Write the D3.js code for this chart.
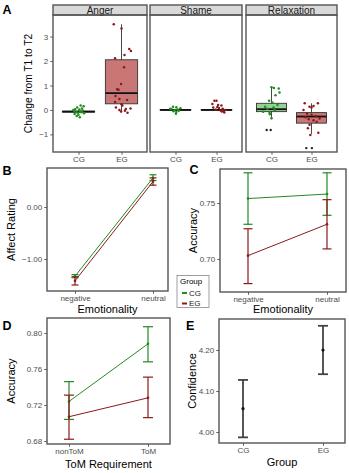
<!DOCTYPE html>
<html>
<head>
<meta charset="utf-8">
<script src="https://cdn.jsdelivr.net/npm/d3@7"></script>
<style>
    body { margin: 0; background: #fff; }
    text { font-family: "Liberation Sans", Arial, sans-serif; }
</style>
</head>
<body>
<svg id="fig" width="349" height="473"></svg>
<script>
var svg = d3.select("#fig");

var facets = ["Anger", "Shame", "Relaxation"];
var groups = ["CG", "EG"];
var colors = { CG: "#228B22", EG: "#8B1A1A" };
var boxFill = { CG: "#93d393", EG: "#c97676" };

// boxplot summaries: facet, group, lower whisker, q1, median, q3, upper whisker
var boxStats = [
    ["Anger", "CG", -0.12, -0.09, -0.07, -0.05, -0.02],
    ["Anger", "EG", -0.10, 0.25, 0.69, 2.05, 3.50],
    ["Shame", "CG", -0.02, -0.01, 0.00, 0.01, 0.02],
    ["Shame", "EG", -0.02, -0.01, 0.00, 0.01, 0.02],
    ["Relaxation", "CG", -0.38, -0.07, 0.03, 0.27, 0.95],
    ["Relaxation", "EG", -0.98, -0.54, -0.27, -0.11, 0.27]
];

// raw change scores: [change, jitter in group units]
var angerCG = [[0.18, 0.05], [0.15, 0.12], [0.10, -0.03], [0.06, 0.08], [0.03, -0.08], [0.02, 0.02],
    [-0.02, 0.10], [-0.04, -0.10], [-0.06, 0.04], [-0.08, -0.05], [-0.10, 0.07], [-0.12, -0.02],
    [-0.14, 0.13], [-0.17, -0.09], [-0.20, 0.00], [-0.25, -0.04], [-0.30, 0.03], [0.00, -0.12]];
var angerEG = [[3.50, -0.18], [3.33, 0.00], [2.49, 0.18], [2.41, 0.22], [2.11, -0.15], [2.24, 0.07],
    [1.74, 0.06], [1.06, -0.01], [0.82, -0.07], [0.85, -0.10], [0.57, -0.14], [0.45, -0.05],
    [0.41, 0.13], [0.32, -0.15], [0.23, 0.00], [0.18, 0.02], [0.10, -0.13], [0.04, 0.10],
    [0.06, 0.21], [-0.03, 0.08], [-0.06, -0.01], [0.00, -0.05], [-0.12, 0.14]];
var shameCG = [[0.13, -0.06], [0.11, 0.02], [0.07, 0.12], [0.04, -0.10], [0.02, 0.05], [0.00, -0.02],
    [-0.03, 0.08], [-0.05, -0.05], [-0.08, 0.02], [-0.16, 0.01], [0.05, -0.13]];
var shameEG = [[0.38, -0.05], [0.38, 0.00], [0.24, -0.10], [0.20, 0.04], [0.18, 0.12], [0.10, -0.08],
    [0.08, 0.06], [0.05, 0.15], [0.02, -0.02], [-0.02, 0.10], [-0.05, 0.17], [-0.11, 0.19],
    [-0.06, 0.13], [0.00, 0.22], [0.12, 0.02]];
var relaxCG = [[0.93, 0.00], [0.90, 0.06], [0.88, 0.18], [0.71, 0.20], [0.60, 0.10], [0.38, -0.06],
    [0.30, 0.02], [0.20, 0.15], [0.13, -0.16], [0.05, -0.10], [-0.07, -0.21], [-0.12, -0.05],
    [-0.18, -0.04], [-0.34, 0.00], [0.10, 0.05], [0.00, 0.08]];
var relaxEG = [[0.27, -0.17], [0.27, 0.16], [0.13, -0.05], [0.10, 0.00], [0.16, 0.05], [0.00, -0.20],
    [-0.16, -0.11], [-0.20, 0.00], [-0.25, 0.10], [-0.30, -0.15], [-0.38, -0.07], [-0.35, 0.20],
    [-0.48, 0.13], [-0.61, -0.05], [-0.75, -0.09], [-0.93, 0.17], [-1.02, -0.03], [-0.42, 0.05]];
var outliers = [["Relaxation", "CG", -0.82, -0.12], ["Relaxation", "CG", -0.82, -0.02],
    ["Relaxation", "EG", -1.56, -0.13], ["Relaxation", "EG", -1.56, 0.01]];
var rawPoints = {
    Anger: { CG: angerCG, EG: angerEG },
    Shame: { CG: shameCG, EG: shameEG },
    Relaxation: { CG: relaxCG, EG: relaxEG }
};

// condition means: [mean, lower, upper]
var emotionality = ["negative", "neutral"];
var affectCG = [[-1.33, -1.36, -1.30], [0.56, 0.51, 0.62]];
var affectEG = [[-1.42, -1.50, -1.34], [0.49, 0.42, 0.56]];
var accuracyCG = [[0.754, 0.731, 0.777], [0.758, 0.739, 0.777]];
var accuracyEG = [[0.703, 0.678, 0.727], [0.731, 0.709, 0.753]];
var tomLevels = ["nonToM", "ToM"];
var tomCG = [[0.724, 0.704, 0.746], [0.788, 0.768, 0.807]];
var tomEG = [[0.707, 0.682, 0.731], [0.728, 0.706, 0.751]];
var confidence = [[4.057, 3.987, 4.127], [4.200, 4.141, 4.259]];

var ticksA = [-1, 0, 1, 2, 3];
var ticksB = [-1, 0];
var ticksC = [0.70, 0.75];
var ticksD = [0.68, 0.72, 0.76, 0.80];
var ticksE = [4.00, 4.10, 4.20];

var borderColor = "#555";
var tickColor = "#4d4d4d";

function letter(txt, x, y) {
    svg.append("text").attr("x", x).attr("y", y)
        .attr("font-size", 12.5).attr("font-weight", "bold")
        .style("fill", "#000").text(txt);
}

function frame(x0, y0, x1, y1) {
    svg.append("rect")
        .attr("x", x0).attr("y", y0)
        .attr("width", x1 - x0).attr("height", y1 - y0)
        .attr("fill", "none")
        .attr("stroke", borderColor)
        .attr("stroke-width", 1.4);
}

function styleAxis(g) {
    g.select(".domain").remove();
    g.selectAll(".tick line").attr("stroke", tickColor).attr("stroke-width", 0.9);
    g.selectAll(".tick text")
        .style("fill", tickColor)
        .style("font-size", "8px")
        .style("font-family", "'Liberation Sans', Arial, sans-serif");
}

function yTitle(txt, cx, cy, size) {
    svg.append("text")
        .attr("transform", "translate(" + cx + "," + cy + ") rotate(-90)")
        .attr("text-anchor", "middle").attr("dy", "0.35em")
        .attr("font-size", size).style("fill", "#000").text(txt);
}

function xTitle(txt, cx, y) {
    svg.append("text").attr("x", cx).attr("y", y)
        .attr("text-anchor", "middle").attr("font-size", 11)
        .style("fill", "#000").text(txt);
}

// ---- panel A: faceted boxplots ----
function drawPanelA() {
    var top = 15, bottom = 152;
    var left = [53, 150, 246], right = [147, 242, 337];
    var y = d3.scaleLinear().domain([-1.72, 3.88]).range([bottom, top]);

    svg.append("g")
        .attr("transform", "translate(" + left[0] + ",0)")
        .call(d3.axisLeft(y).tickValues(ticksA).tickFormat(d3.format("d")).tickSize(2.75).tickPadding(2))
        .call(styleAxis);
    yTitle("Change from T1 to T2", 28, (top + bottom) / 2, 10.2);

    facets.forEach(function (f, i) {
        var x = d3.scalePoint().domain(groups).range([left[i] + 25.5, right[i] - 25.5]);
        var step = x("EG") - x("CG");
        var bw = step * 0.75;
        var pg = svg.append("g");

        // strip
        pg.append("rect")
            .attr("x", left[i]).attr("y", 5)
            .attr("width", right[i] - left[i]).attr("height", top - 5)
            .attr("fill", "#d9d9d9").attr("stroke", borderColor).attr("stroke-width", 1.4);
        pg.append("text")
            .attr("x", (left[i] + right[i]) / 2).attr("y", 13.6)
            .attr("text-anchor", "middle").attr("font-size", 10)
            .style("fill", "#1a1a1a")
            .text(f);

        boxStats.filter(function (b) { return b[0] === f; }).forEach(function (b) {
            var cx = x(b[1]);
            pg.append("line")
                .attr("x1", cx).attr("x2", cx)
                .attr("y1", y(b[2])).attr("y2", y(b[6]))
                .attr("stroke", "#333").attr("stroke-width", 0.9);
            pg.append("rect")
                .attr("x", cx - bw / 2).attr("width", bw)
                .attr("y", y(b[5])).attr("height", Math.max(y(b[3]) - y(b[5]), 0.5))
                .attr("fill", boxFill[b[1]]).attr("stroke", "#333").attr("stroke-width", 0.9);
            pg.append("line")
                .attr("x1", cx - bw / 2).attr("x2", cx + bw / 2)
                .attr("y1", y(b[4])).attr("y2", y(b[4]))
                .attr("stroke", "#111").attr("stroke-width", 1.8);
        });

        groups.forEach(function (gname) {
            pg.selectAll(null)
                .data(rawPoints[f][gname])
                .enter().append("circle")
                .attr("cx", function (d) { return x(gname) + d[1] * step; })
                .attr("cy", function (d) { return y(d[0]); })
                .attr("r", 1.25)
                .attr("fill", colors[gname]);
        });

        pg.selectAll(null)
            .data(outliers.filter(function (o) { return o[0] === f; }))
            .enter().append("circle")
            .attr("cx", function (d) { return x(d[1]) + d[3] * step; })
            .attr("cy", function (d) { return y(d[2]); })
            .attr("r", 1.2)
            .attr("fill", "#222");

        svg.append("g")
            .attr("transform", "translate(0," + bottom + ")")
            .call(d3.axisBottom(x).tickSize(2.75).tickPadding(2))
            .call(styleAxis);

        frame(left[i], top, right[i], bottom);
    });
    letter("A", 2.5, 13.5);
}

// ---- panels B, C, D: means with error bars ----
function meanPanel(o) {
    var x = d3.scalePoint().domain(o.cats).range([o.x0 + o.padL, o.x1 - o.padR]);
    var y = d3.scaleLinear().domain(o.domain).range([o.y1, o.y0]);

    svg.append("g")
        .attr("transform", "translate(" + o.x0 + ",0)")
        .call(d3.axisLeft(y).tickValues(o.ticks).tickFormat(d3.format(".2f")).tickSize(2.75).tickPadding(2))
        .call(styleAxis);
    svg.append("g")
        .attr("transform", "translate(0," + o.y1 + ")")
        .call(d3.axisBottom(x).tickSize(2.75).tickPadding(2))
        .call(styleAxis);

    o.series.forEach(function (s) {
        var g = svg.append("g");
        var line = d3.line()
            .x(function (d, i) { return x(o.cats[i]); })
            .y(function (d) { return y(d[0]); });
        g.append("path")
            .datum(s.data)
            .attr("d", line)
            .attr("fill", "none")
            .attr("stroke", s.color)
            .attr("stroke-width", 1);
        s.data.forEach(function (d, i) {
            var cx = x(o.cats[i]);
            g.append("line").attr("x1", cx).attr("x2", cx).attr("y1", y(d[1])).attr("y2", y(d[2]))
                .attr("stroke", s.color).attr("stroke-width", 1.2);
            [d[1], d[2]].forEach(function (v) {
                g.append("line")
                    .attr("x1", cx - o.cap / 2).attr("x2", cx + o.cap / 2)
                    .attr("y1", y(v)).attr("y2", y(v))
                    .attr("stroke", s.color).attr("stroke-width", 1.2);
            });
            g.append("circle").attr("cx", cx).attr("cy", y(d[0])).attr("r", 1.3).attr("fill", s.color);
        });
    });

    frame(o.x0, o.y0, o.x1, o.y1);
    yTitle(o.yLabel, o.yLabelX, (o.y0 + o.y1) / 2, 11);
    xTitle(o.xLabel, (o.x0 + o.x1) / 2, o.xLabelY);
}

// ---- panel E: group confidence ----
function drawPanelE() {
    var x0 = 219, x1 = 345, y0 = 319, y1 = 443;
    var x = d3.scalePoint().domain(groups).range([x0 + 24, x1 - 22]);
    var y = d3.scaleLinear().domain([3.9732, 4.2756]).range([y1, y0]);

    svg.append("g")
        .attr("transform", "translate(" + x0 + ",0)")
        .call(d3.axisLeft(y).tickValues(ticksE).tickFormat(d3.format(".2f")).tickSize(2.75).tickPadding(2))
        .call(styleAxis);
    svg.append("g")
        .attr("transform", "translate(0," + y1 + ")")
        .call(d3.axisBottom(x).tickSize(2.75).tickPadding(2))
        .call(styleAxis);

    confidence.forEach(function (d, i) {
        var cx = x(groups[i]);
        svg.append("line").attr("x1", cx).attr("x2", cx).attr("y1", y(d[1])).attr("y2", y(d[2]))
            .attr("stroke", "#444").attr("stroke-width", 1.8);
        [d[1], d[2]].forEach(function (v) {
            svg.append("line").attr("x1", cx - 5).attr("x2", cx + 5).attr("y1", y(v)).attr("y2", y(v))
                .attr("stroke", "#444").attr("stroke-width", 1.8);
        });
        svg.append("circle").attr("cx", cx).attr("cy", y(d[0])).attr("r", 1.6).attr("fill", "#111");
    });

    frame(x0, y0, x1, y1);
    yTitle("Confidence", 192.5, (y0 + y1) / 2, 11);
    xTitle("Group", (x0 + x1) / 2, 466);
    letter("E", 186, 330);
}

function drawLegend() {
    var lg = svg.append("g").attr("transform", "translate(177,275.5)");
    lg.append("rect").attr("width", 32).attr("height", 32)
        .attr("fill", "#fff").attr("stroke", "#888").attr("stroke-width", 0.8);
    lg.append("text").attr("x", 3).attr("y", 8.5).attr("font-size", 8)
        .style("fill", "#000").text("Group");
    groups.forEach(function (gname, i) {
        lg.append("line")
            .attr("x1", 5).attr("x2", 10)
            .attr("y1", 17.5 + i * 10.5).attr("y2", 17.5 + i * 10.5)
            .attr("stroke", colors[gname]).attr("stroke-width", 2);
        lg.append("text").attr("x", 12).attr("y", 20 + i * 10.5)
            .attr("font-size", 8).style("fill", "#1a1a1a").text(gname);
    });
}

drawPanelA();

meanPanel({
    x0: 47, x1: 168, y0: 168, y1: 291, padL: 28, padR: 15,
    cats: emotionality, domain: [-1.615, 0.75], ticks: ticksB, cap: 7,
    series: [{ data: affectCG, color: colors.CG }, { data: affectEG, color: colors.EG }],
    yLabel: "Affect Rating", yLabelX: 11.5, xLabel: "Emotionality", xLabelY: 313
});
letter("B", 2.5, 175);

meanPanel({
    x0: 220, x1: 346, y0: 169, y1: 292, padL: 28, padR: 19,
    cats: emotionality, domain: [0.6705, 0.7804], ticks: ticksC, cap: 9,
    series: [{ data: accuracyCG, color: colors.CG }, { data: accuracyEG, color: colors.EG }],
    yLabel: "Accuracy", yLabelX: 193, xLabel: "Emotionality", xLabelY: 313
});
letter("C", 189.5, 174);

meanPanel({
    x0: 47, x1: 170, y0: 318, y1: 444, padL: 22, padR: 22,
    cats: tomLevels, domain: [0.6767, 0.8167], ticks: ticksD, cap: 10,
    series: [{ data: tomCG, color: colors.CG }, { data: tomEG, color: colors.EG }],
    yLabel: "Accuracy", yLabelX: 11.5, xLabel: "ToM Requirement", xLabelY: 467.5
});
letter("D", 2.5, 330);

drawPanelE();
drawLegend();
</script>
</body>
</html>
